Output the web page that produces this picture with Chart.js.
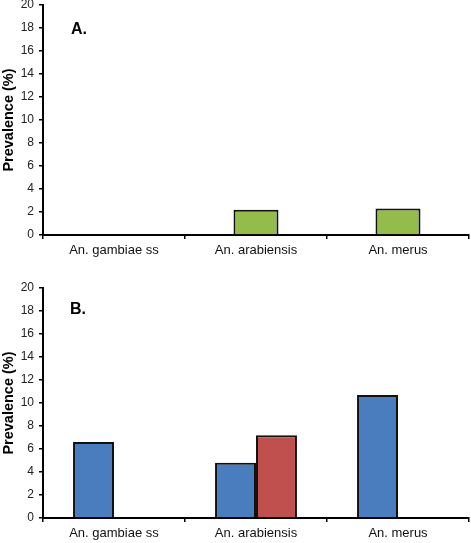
<!DOCTYPE html>
<html lang="en">
  <head>
    <meta charset="UTF-8" />
    <title>Prevalence by species</title>
    <script src="https://cdn.jsdelivr.net/npm/chart.js"></script>
    <style>
      body {
        margin: 0;
        background: #fff;
        font-family: "Liberation Sans", Arial, sans-serif;
      }
      .panel {
        position: absolute;
        left: 0;
        width: 471px;
      }
      .panel-label {
        position: absolute;
        font-weight: bold;
        font-size: 16px;
        color: #000;
      }
    </style>
  </head>
  <body>
    <div class="panel" style="top: 0; height: 262px">
      <canvas id="chartA" width="471" height="262"></canvas>
      <div class="panel-label" style="left: 71px; top: 20px">A.</div>
    </div>
    <div class="panel" style="top: 272px; height: 271px">
      <canvas id="chartB" width="471" height="271"></canvas>
      <div class="panel-label" style="left: 70px; top: 28px">B.</div>
    </div>

    <script>
      // species on the x axis
      const species = ["An. gambiae ss", "An. arabiensis", "An. merus"];

      // panel A - one series
      const panelA = [null, 2.2, 2.3];

      // panel B - two series
      const panelBBlue = [6.6, 4.8, 10.7];
      const panelBRed = [null, 7.2, null];

      const yTicks = [0, 2, 4, 6, 8, 10, 12, 14, 16, 18, 20];

      function axes(xHeight) {
        return {
          x: {
            offset: true,
            grid: {
              offset: true,
              drawOnChartArea: false,
              drawTicks: true,
              tickLength: 4,
              color: "#000",
              lineWidth: 1.5,
            },
            border: { display: true, color: "#000", width: 2 },
            ticks: {
              color: "#111",
              font: { family: "Liberation Sans", size: 13 },
              padding: 4,
              maxRotation: 0,
            },
            afterFit: (s) => {
              s.height = xHeight;
            },
          },
          y: {
            min: 0,
            max: 20,
            afterBuildTicks: (s) => {
              s.ticks = yTicks.map((v) => ({ value: v }));
            },
            grid: {
              drawOnChartArea: false,
              drawTicks: true,
              tickLength: 4,
              color: "#000",
              lineWidth: 1.5,
            },
            border: { display: true, color: "#000", width: 2 },
            ticks: {
              color: "#222",
              font: { family: "Liberation Sans", size: 12 },
              padding: 5,
            },
            title: {
              display: true,
              text: "Prevalence (%)",
              color: "#000",
              font: { family: "Liberation Sans", size: 14.5, weight: "bold" },
              padding: 0,
            },
            afterFit: (s) => {
              s.width = 43;
              s.paddingTop = 0;
              s.paddingBottom = 0;
            },
          },
        };
      }

      const common = {
        responsive: false,
        animation: false,
        plugins: { legend: { display: false }, tooltip: { enabled: false } },
      };

      new Chart(document.getElementById("chartA"), {
        type: "bar",
        data: {
          labels: species,
          datasets: [
            {
              data: panelA,
              backgroundColor: "#94bc4a",
              borderColor: "#111",
              borderWidth: 2,
              categoryPercentage: 0.317,
              barPercentage: 1,
            },
          ],
        },
        options: {
          ...common,
          layout: { padding: { top: 5, right: 2, left: 0, bottom: 0 } },
          scales: axes(27),
        },
      });

      new Chart(document.getElementById("chartB"), {
        type: "bar",
        data: {
          labels: species,
          datasets: [
            {
              data: panelBBlue,
              backgroundColor: "#4a7dbe",
              borderColor: "#111",
              borderWidth: 2,
              categoryPercentage: 0.577,
              barPercentage: 1,
            },
            {
              data: panelBRed,
              backgroundColor: "#c0504d",
              borderColor: "#111",
              borderWidth: 2,
              categoryPercentage: 0.577,
              barPercentage: 1,
            },
          ],
        },
        options: {
          ...common,
          layout: { padding: { top: 16, right: 2, left: 0, bottom: 0 } },
          scales: axes(25),
        },
      });
    </script>
  </body>
</html>
